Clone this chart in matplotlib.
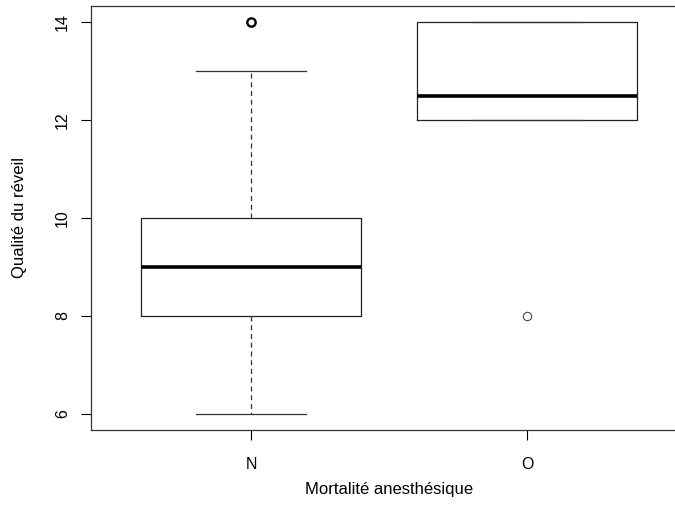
import matplotlib
matplotlib.use("Agg")
import matplotlib.pyplot as plt

plt.rcParams['font.family'] = ['Liberation Sans', 'DejaVu Sans']

# boxplot summary
categories = ['N', 'O']
whislo = [6, 12]
q1 = [8, 12]
med = [9, 12.5]
q3 = [10, 14]
whishi = [13, 14]
fliers = [[14], [8]]

stats = []
for i in range(len(categories)):
    stats.append(dict(label=categories[i], whislo=whislo[i], q1=q1[i], med=med[i],
                      q3=q3[i], whishi=whishi[i], fliers=fliers[i]))

fig = plt.figure(figsize=(6.75, 5.15), dpi=100)
# axes run a bit past the right edge, like the cropped original
ax = fig.add_axes([91/675, 85/515, 596/675, 424/515])

bp = ax.bxp(stats, positions=[1, 2], widths=0.8, showfliers=True,
            boxprops=dict(color='#222222', lw=0.9),
            medianprops=dict(color='black', lw=2.6),
            whiskerprops=dict(color='#333333', lw=0.9, linestyle=(0, (4, 3))),
            capprops=dict(color='#333333', lw=0.9),
            capwidths=0.4,
            flierprops=dict(marker='o', markerfacecolor='none', markeredgecolor='black',
                            markersize=6, markeredgewidth=1.0))
# the N outlier is drawn over several times in the original, so it looks heavier
bp['fliers'][0].set_markeredgewidth(1.7)
bp['fliers'][1].set_markeredgewidth(0.8)
bp['fliers'][1].set_markeredgecolor('#444444')

ax.set_xlim(0.42, 2.58)
ax.set_ylim(5.67, 14.33)
ax.set_yticks([6, 8, 10, 12, 14])
ax.set_yticklabels(['6', '8', '10', '12', '14'], rotation=90, va='center')
ax.set_xticks([1, 2])
ax.set_xticklabels(categories)
ax.tick_params(direction='out', length=7.2, width=0.8, labelsize=11.5)
ax.tick_params(axis='x', pad=12.5)
ax.tick_params(axis='y', pad=8)
for s in ax.spines.values():
    s.set_linewidth(0.9)
    s.set_color('#333333')

ax.set_xlabel('Mortalité anesthésique', fontsize=12, labelpad=7)
ax.set_ylabel('Qualité du réveil', fontsize=12, labelpad=20)

fig.savefig('out.png', dpi=100)
